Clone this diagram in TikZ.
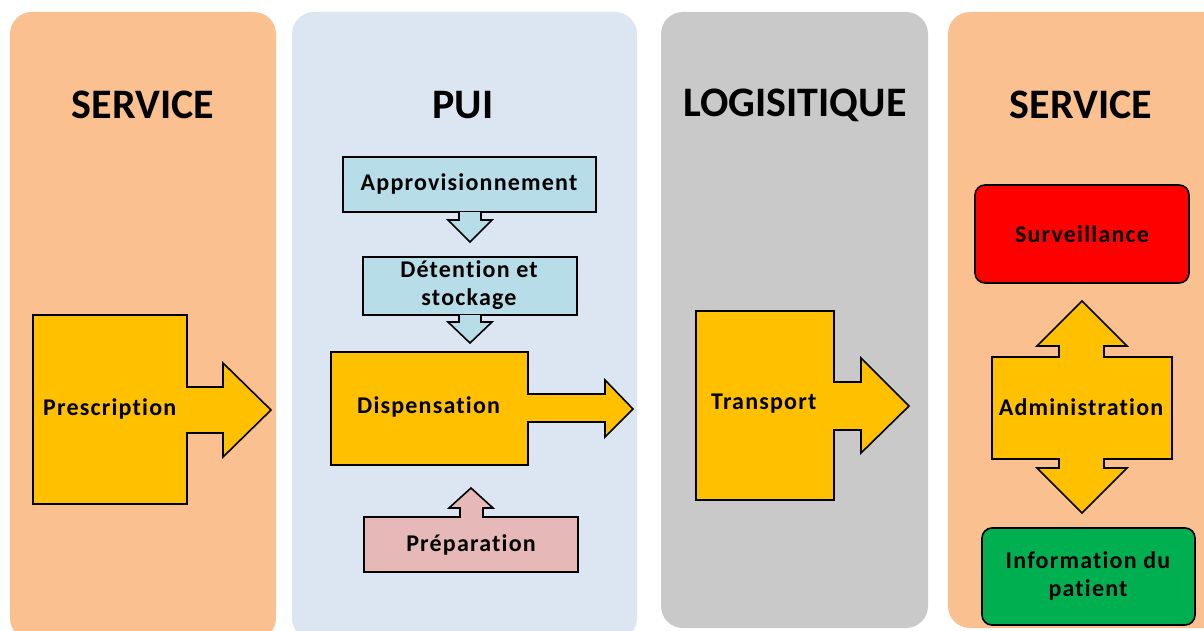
\documentclass[tikz,border=0pt]{standalone}
\usepackage{fontspec}
\setmainfont{Carlito}
\newfontfamily\labelfont[LetterSpace=5, Ligatures=NoCommon]{Carlito}
\usetikzlibrary{positioning}
\definecolor{peach}{HTML}{FAC090}
\definecolor{paleblue}{HTML}{DCE6F2}
\definecolor{greycol}{HTML}{C9C9C9}
\definecolor{gold}{HTML}{FFC000}
\definecolor{aqua}{HTML}{B7DEE8}
\definecolor{rose}{HTML}{E6B9B8}
\definecolor{alert}{HTML}{FF0000}
\definecolor{okgreen}{HTML}{00B050}

\begin{document}
\begin{tikzpicture}[x=1pt, y=-1pt, line join=miter]
      \tikzset{
	  column/.style={rounded corners=22pt},
	  title/.style={font=\fontsize{42}{48}\selectfont\bfseries, inner sep=0pt},
	  label/.style={font=\labelfont\fontsize{24}{28}\selectfont\bfseries, text=black, inner sep=0pt, align=center},
	  block/.style={draw=black, line width=1.6pt, fill=gold},
	  roundbox/.style={draw=black, line width=1.6pt, rounded corners=10pt}
      }
      \clip (0,0) rectangle (1204,631);
      \fill[white] (0,0) rectangle (1204,631);

      % columns
      \fill[column, peach] (10,12) rectangle (276,640);
      \fill[column, paleblue] (292,12) rectangle (637,640);
      \fill[column, greycol] (661,12) rectangle (928,628);
      \fill[column, peach] (948,12) rectangle (1240,628);

      \node at (143,105) [title] (serv1) {SERVICE};
      \node at (463,105) [title] (pui) {PUI};
      \node at (795,105) [title] (logi) {LOGISITIQUE};
      \node at (1081,105) [title] (serv2) {SERVICE};

      % service
      \draw[block] (33,315) -- (187,315) -- (187,387) -- (223,387) -- (223,363) -- (271,410)
	    -- (223,457) -- (223,433) -- (187,433) -- (187,504) -- (33,504) -- cycle;
      \node at (43,409) [label, anchor=west] (presc) {Prescription};

      % pui
      \draw[block, fill=aqua] (343,157) rectangle (596,212);
      \draw[block, fill=aqua] (459,212) -- (459,220) -- (448,220) -- (470,242) -- (492,220) -- (481,220) -- (481,212);
      \node at (469,184) [label] (appro) {Approvisionnement};

      \draw[block, fill=aqua] (363,257) rectangle (577,315);
      \draw[block, fill=aqua] (459,315) -- (459,322) -- (448,322) -- (470,343) -- (492,322) -- (481,322) -- (481,315);
      \node at (469,285) [label] (deten) {Détention et\\stockage};

      \draw[block] (331,352) -- (528,352) -- (528,394) -- (605,394) -- (605,380) -- (633,409)
	    -- (605,437) -- (605,422) -- (528,422) -- (528,465) -- (331,465) -- cycle;
      \node at (357,407) [label, anchor=west] (dispen) {Dispensation};

      \draw[block, fill=rose] (364,517) -- (460,517) -- (460,508) -- (449,508) -- (471,488) -- (493,508)
	    -- (483,508) -- (483,517) -- (578,517) -- (578,572) -- (364,572) -- cycle;
      \node at (471,545) [label] (prepa) {Préparation};

      % logistique
      \draw[block] (696,311) -- (834,311) -- (834,382) -- (861,382) -- (861,358) -- (909,406)
	    -- (861,453) -- (861,430) -- (834,430) -- (834,500) -- (696,500) -- cycle;
      \node at (711,404) [label, anchor=west] (transp) {Transport};

      % service
      \draw[roundbox, fill=alert] (975,185) rectangle (1189,283);
      \node at (1082,234) [label] (surv) {Surveillance};

      \draw[block] (992,357) -- (1059,357) -- (1059,346) -- (1037,346) -- (1082,301) -- (1127,346)
	    -- (1104,346) -- (1104,357) -- (1172,357) -- (1172,459) -- (1104,459) -- (1104,468)
	    -- (1127,468) -- (1082,513) -- (1037,468) -- (1059,468) -- (1059,459) -- (992,459) -- cycle;
      \node at (1081,407) [label] (admin) {Administration};

      \draw[roundbox, fill=okgreen] (982,528) rectangle (1195,625);
      \node at (1088,576) [label] (info) {Information du\\patient};
\end{tikzpicture}
\end{document}
